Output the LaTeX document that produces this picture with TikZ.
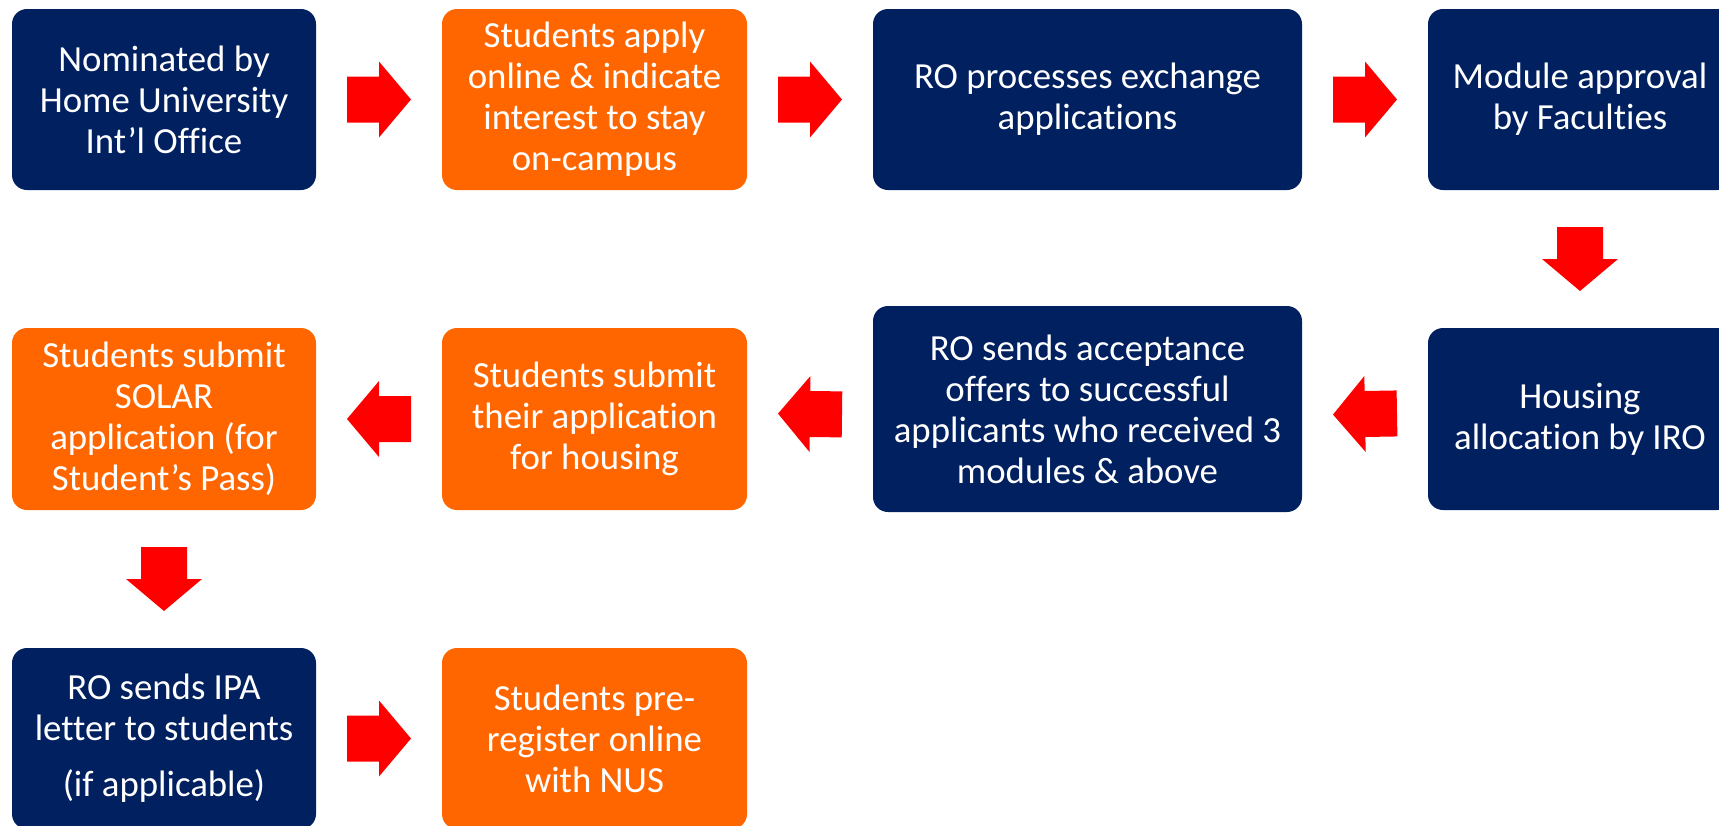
\documentclass[tikz,border=0pt]{standalone}
\usepackage{fontspec}
\setmainfont{Carlito}[Ligatures={NoCommon,NoContextual,NoRequired},Contextuals=NoAlternate]
\usetikzlibrary{calc}
\definecolor{navy}{HTML}{002060}
\definecolor{orng}{HTML}{FF6600}
\definecolor{ared}{HTML}{FF0000}
\newcommand\tiX{t\kern0pt i}
\begin{document}
\begin{tikzpicture}[x=1pt,y=-1pt,
  stepbox/.style={rounded corners=15pt, inner sep=0pt, text=white, align=center,
    font=\fontsize{36.8}{41}\selectfont},
  navybox/.style={stepbox, fill=navy},
  orangebox/.style={stepbox, fill=orng},
  narrowbox/.style={minimum width=304pt, minimum height=181pt},
  widebox/.style={minimum width=429pt, minimum height=181pt},
  rarrow/.pic={\fill[ared] (-32,-23) -- (0,-23) -- (0,-38) -- (32,0) -- (0,38) -- (0,23) -- (-32,23) -- cycle;}
]
\clip (0,0) rectangle (1719,825);
% row 1
\node[navybox, narrowbox] (n1) at (164,99.5) {Nominated by\\Home University\\Int’l Office};
\node[orangebox, narrowbox, minimum width=305pt] (n2) at (594.5,99.5) {Students apply\\online \& indicate\\interest to stay\\on-campus};
\node[navybox, widebox] (n3) at (1087.5,99.5) {RO processes exchange\\applica\tiX ons};
\node[navybox, narrowbox] (n4) at (1580,99.5) {Module approval\\by Facul\tiX es};
% row 2
\node[navybox, narrowbox, minimum height=182pt] (n8) at (1580,419) {Housing\\alloca\tiX on by IRO};
\node[navybox, widebox, minimum height=206pt] (n7) at (1087.5,409) {RO sends acceptance\\offers to successful\\applicants who received 3\\modules \& above};
\node[orangebox, narrowbox, minimum width=305pt, minimum height=182pt] (n6) at (594.5,419) {Students submit\\their applica\tiX on\\for housing};
\node[orangebox, narrowbox, minimum height=182pt] (n5) at (164,419) {Students submit\\SOLAR\\applica\tiX on (for\\Student’s Pass)};
% row 3
\node[navybox, narrowbox] (n9) at (164,738.5) {RO sends IPA\\letter to students\\[15pt](if applicable)};
\node[orangebox, narrowbox, minimum width=305pt] (n10) at (594.5,738.5) {Students pre-\\register online\\with NUS};
% block arrows between nodes
\coordinate (a1) at ($(n1.east)!0.5!(n2.west)$);
\coordinate (a2) at ($(n2.east)!0.5!(n3.west)$);
\coordinate (a3) at ($(n3.east)!0.5!(n4.west)$);
\coordinate (a4) at ($(n4.south)!0.5!(n8.north)$);
\coordinate (a5) at ($(n8.west)!0.5!(n7.east)$);
\coordinate (a6) at ($(n7.west)!0.5!(n6.east)$);
\coordinate (a7) at ($(n6.west)!0.5!(n5.east)$);
\coordinate (a8) at ($(n5.south)!0.5!(n9.north)$);
\coordinate (a9) at ($(n9.east)!0.5!(n10.west)$);
\pic at (a1) {rarrow};
\pic at (a2) {rarrow};
\pic at (a3) {rarrow};
\pic[rotate=-90] at (a4) {rarrow};
\pic[rotate=181] at (a5) {rarrow};
\pic[rotate=179.3] at (a6) {rarrow};
\pic[rotate=180] at (a7) {rarrow};
\pic[rotate=-90] at (a8) {rarrow};
\pic at (a9) {rarrow};
\end{tikzpicture}
\end{document}
